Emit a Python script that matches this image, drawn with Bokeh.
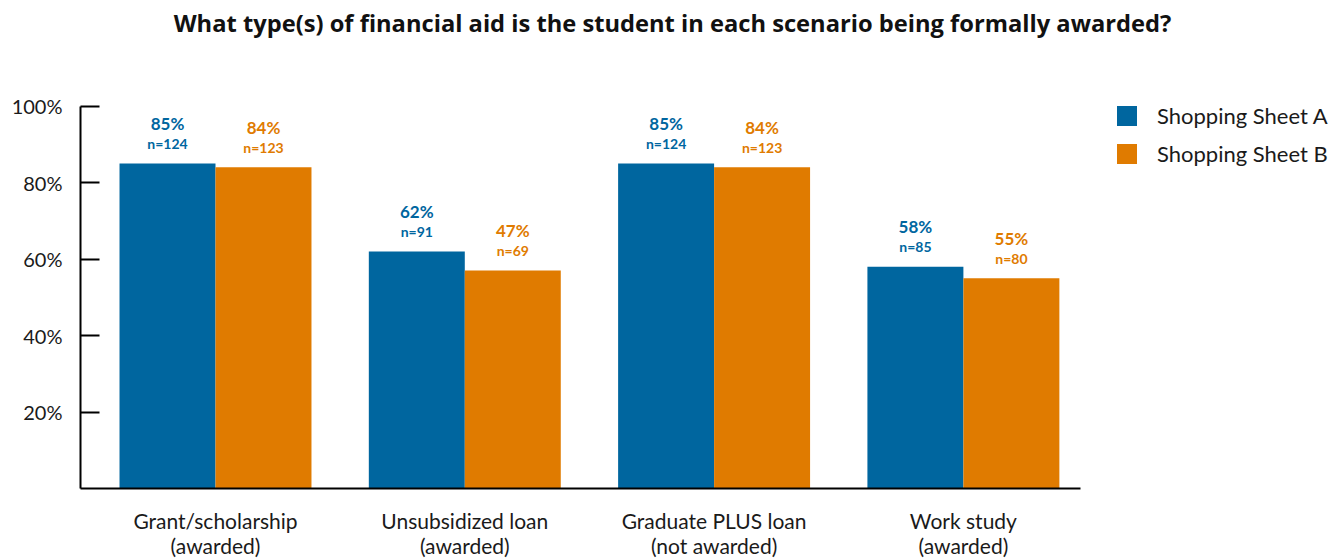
from bokeh.plotting import figure
from bokeh.models import (ColumnDataSource, Range1d, FixedTicker, PrintfTickFormatter,
                          Legend, LegendItem, Label)
from bokeh.transform import dodge
from bokeh.core.properties import value
from bokeh.embed import file_html
from bokeh.resources import INLINE

# ---- data ----
categories = ["Grant/scholarship\n(awarded)", "Unsubsidized loan\n(awarded)",
              "Graduate PLUS loan\n(not awarded)", "Work study\n(awarded)"]
sheet_a = [85, 62, 85, 58]
sheet_b = [84, 57, 84, 55]
pct_a = ["85%", "62%", "85%", "58%"]
pct_b = ["84%", "47%", "84%", "55%"]
n_a = ["n=124", "n=91", "n=124", "n=85"]
n_b = ["n=123", "n=69", "n=123", "n=80"]
series_names = ["Shopping Sheet A", "Shopping Sheet B"]
title_text = "What type(s) of financial aid is the student in each scenario being formally awarded?"

BLUE = "#00669F"
ORANGE = "#E07B00"
FONT = "Lato"

xs = list(range(len(categories)))
src = ColumnDataSource(dict(x=xs, a=sheet_a, b=sheet_b, pa=pct_a, pb=pct_b, na=n_a, nb=n_b))

# frame spans the whole width/top so that legend & title (annotations) are not clipped;
# axis lines are limited with bounds
X0, X1, XEND = -0.5415, 3.4697, 4.5287
p = figure(width=1344, height=560, output_backend="svg", toolbar_location=None,
           x_range=Range1d(X0, XEND), y_range=Range1d(0, 127.6),
           min_border_left=80, min_border_right=0, min_border_top=0, min_border_bottom=70)
p.outline_line_color = None
p.xgrid.grid_line_color = None
p.ygrid.grid_line_color = None
p.background_fill_color = "white"
p.border_fill_color = "white"

W = 0.385
off = W / 2
ra = p.vbar(x=dodge("x", -off, range=p.x_range), top="a", width=W, source=src,
            fill_color=BLUE, line_color=None)
rb = p.vbar(x=dodge("x", off, range=p.x_range), top="b", width=W, source=src,
            fill_color=ORANGE, line_color=None)

for key_p, key_n, top, dx, col in (("pa", "na", "a", -off, BLUE), ("pb", "nb", "b", off, ORANGE)):
    p.text(x=dodge("x", dx, range=p.x_range), y=top, text=key_p, source=src,
           text_align="center", text_baseline="middle", y_offset=-40,
           text_font=value(FONT), text_font_style="bold", text_font_size="17px",
           text_color=col)
    p.text(x=dodge("x", dx, range=p.x_range), y=top, text=key_n, source=src,
           text_align="center", text_baseline="middle", y_offset=-20,
           text_font=value(FONT), text_font_style="bold", text_font_size="14px",
           text_color=col)

# axes
p.yaxis.bounds = (0, 100)
p.yaxis.ticker = FixedTicker(ticks=[20, 40, 60, 80, 100])
p.yaxis.formatter = PrintfTickFormatter(format="%d%%")
p.yaxis.major_tick_in = 19
p.yaxis.major_tick_out = 0
p.yaxis.minor_tick_line_color = None
p.yaxis.major_label_standoff = 18
p.yaxis.axis_line_width = 2
p.yaxis.major_tick_line_width = 2
p.yaxis.axis_line_color = "black"
p.yaxis.major_tick_line_color = "black"
p.yaxis.major_label_text_font = FONT
p.yaxis.major_label_text_font_size = "20px"
p.yaxis.major_label_text_color = "#1a1a1a"

p.xaxis.bounds = (X0, X1)
p.xaxis.ticker = FixedTicker(ticks=xs)
p.xaxis.major_label_overrides = {i: c for i, c in zip(xs, categories)}
p.xaxis.major_tick_in = 0
p.xaxis.major_tick_out = 0
p.xaxis.minor_tick_line_color = None
p.xaxis.axis_line_width = 2
p.xaxis.axis_line_color = "black"
p.xaxis.major_label_standoff = 19
p.xaxis.major_label_text_font = FONT
p.xaxis.major_label_text_font_size = "21px"
p.xaxis.major_label_text_color = "#1a1a1a"
p.xaxis.major_label_text_line_height = 1.0

legend = Legend(items=[LegendItem(label=series_names[0], renderers=[ra]),
                       LegendItem(label=series_names[1], renderers=[rb])],
                location=(1034, 321), orientation="vertical",
                glyph_width=25, glyph_height=25, label_height=20, spacing=11,
                label_standoff=18, padding=0, margin=0,
                border_line_color=None, background_fill_alpha=0,
                label_text_font=FONT, label_text_font_size="22px",
                label_text_color="#1a1a1a")
p.add_layout(legend)

title = Label(x=592, y=466, x_units="screen", y_units="screen", text=title_text,
              text_align="center", text_baseline="middle", text_font="Open Sans",
              text_font_style="bold", text_font_size="23.7px", text_color="#111111")
p.add_layout(title)

open("out.html", "w").write(file_html(p, INLINE))
